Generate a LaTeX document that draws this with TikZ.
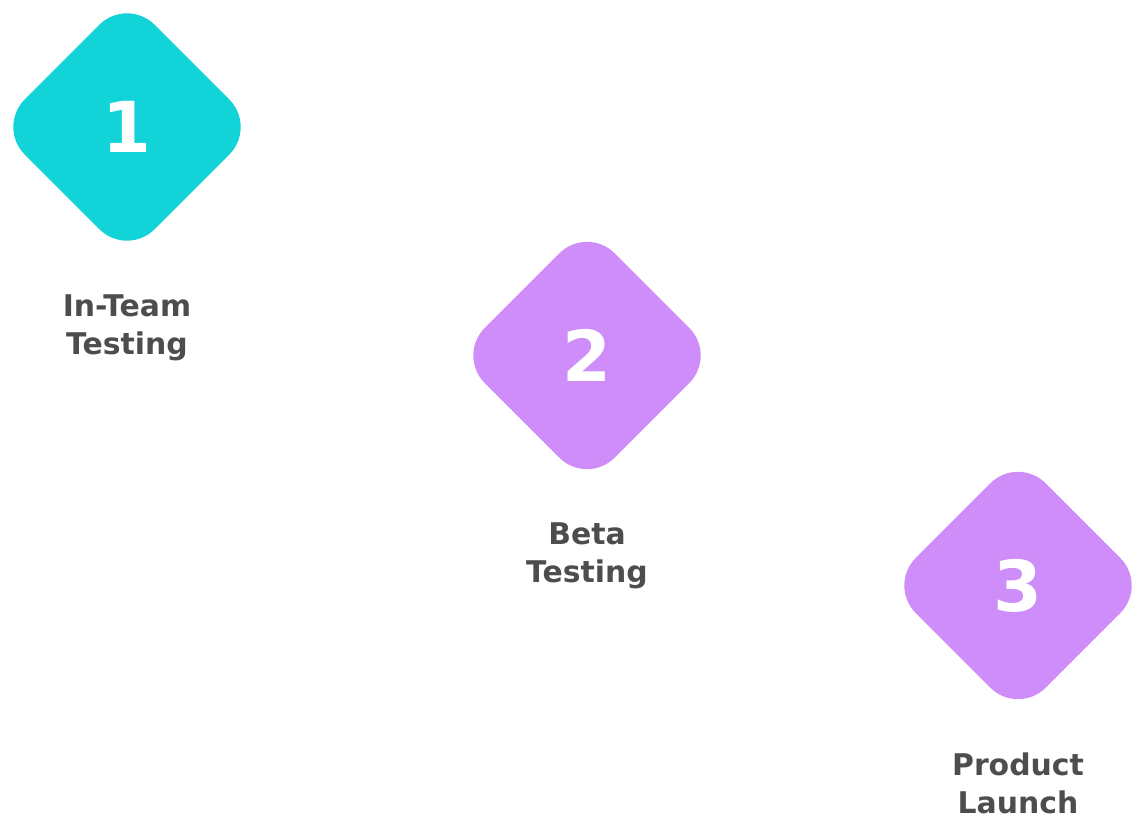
\documentclass[tikz,border=0pt]{standalone}
\usepackage{fontspec}
\setmainfont{DejaVu Sans}
\usepackage{tikz}
\usetikzlibrary{shapes.geometric,positioning}
\definecolor{stepcyan}{RGB}{18, 212, 216}
\definecolor{steppurple}{RGB}{206, 141, 249}
\definecolor{labelgray}{RGB}{77, 77, 77}

\begin{document}
\begin{tikzpicture}[x=0.02cm, y=-0.02cm,
    phase/.style={diamond, aspect=1, inner sep=0pt, minimum width=5.2cm, minimum height=5.2cm, rounded corners=0.78cm, text=white, font=\fontsize{40}{40}\selectfont\bfseries},
    caption/.style={align=center, inner sep=0pt, text=labelgray, font=\fontsize{17}{21.5}\selectfont\bfseries}]
    \useasboundingbox (0,0) rectangle (1146,834);

    % Stage diamonds
    \node[phase, fill=stepcyan] (d1) at (127, 127) {1};
    \node[phase, fill=steppurple] (d2) at (587, 355.5) {2};
    \node[phase, fill=steppurple] (d3) at (1018, 585.5) {3};

    % Stage captions
    \node[caption, below=0.74cm of d1] (l1) {In-Team\\Testing};
    \node[caption, below=0.74cm of d2] (l2) {Beta\\Testing};
    \node[caption, below=0.74cm of d3] (l3) {Product\\Launch};
\end{tikzpicture}
\end{document}
